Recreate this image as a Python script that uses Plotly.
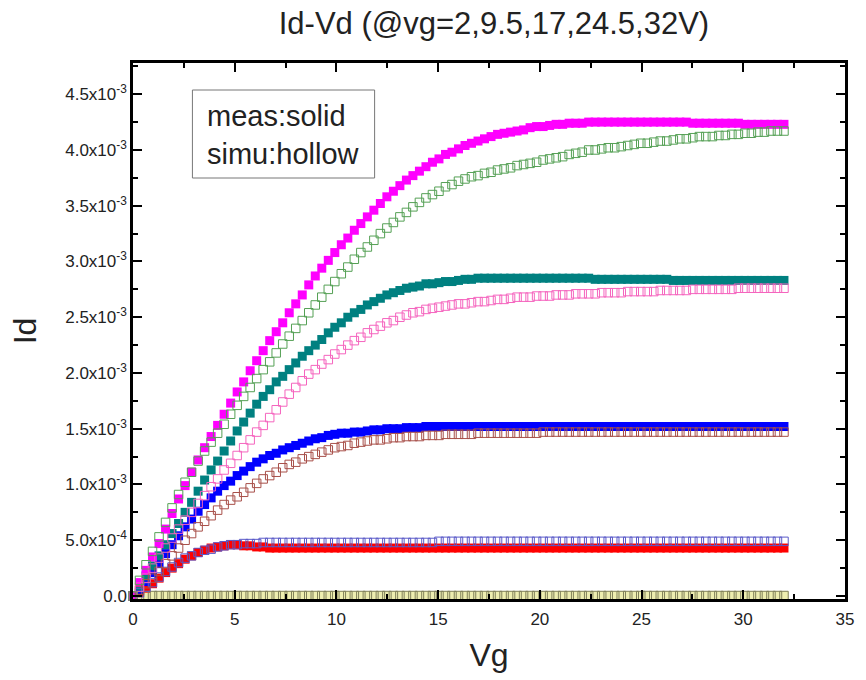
import plotly.graph_objects as go
import numpy as np

vg = [0.00, 0.32, 0.64, 0.96, 1.28, 1.60, 1.92, 2.24, 2.56, 2.88,
      3.20, 3.52, 3.84, 4.16, 4.48, 4.80, 5.12, 5.44, 5.76, 6.08,
      6.40, 6.72, 7.04, 7.36, 7.68, 8.00, 8.32, 8.64, 8.96, 9.28,
      9.60, 9.92, 10.24, 10.56, 10.88, 11.20, 11.52, 11.84, 12.16, 12.48,
      12.80, 13.12, 13.44, 13.76, 14.08, 14.40, 14.72, 15.04, 15.36, 15.68,
      16.00, 16.32, 16.64, 16.96, 17.28, 17.60, 17.92, 18.24, 18.56, 18.88,
      19.20, 19.52, 19.84, 20.16, 20.48, 20.80, 21.12, 21.44, 21.76, 22.08,
      22.40, 22.72, 23.04, 23.36, 23.68, 24.00, 24.32, 24.64, 24.96, 25.28,
      25.60, 25.92, 26.24, 26.56, 26.88, 27.20, 27.52, 27.84, 28.16, 28.48,
      28.80, 29.12, 29.44, 29.76, 30.08, 30.40, 30.72, 31.04, 31.36, 31.68,
      32.00]

# drain currents, in units of 1e-3 A
meas_32 = [0, 0.12, 0.23, 0.35, 0.47, 0.60, 0.74, 0.87, 0.99, 1.11,
           1.22, 1.33, 1.43, 1.53, 1.63, 1.73, 1.83, 1.92, 2.02, 2.11,
           2.20, 2.29, 2.37, 2.45, 2.54, 2.62, 2.70, 2.79, 2.87, 2.94,
           3.01, 3.08, 3.15, 3.21, 3.28, 3.34, 3.40, 3.46, 3.52, 3.58,
           3.63, 3.68, 3.73, 3.77, 3.81, 3.85, 3.89, 3.92, 3.96, 3.98,
           4.01, 4.04, 4.06, 4.08, 4.10, 4.12, 4.14, 4.15, 4.16, 4.17,
           4.18, 4.20, 4.21, 4.21, 4.22, 4.23, 4.23, 4.24, 4.24, 4.24,
           4.25, 4.25, 4.25, 4.25, 4.25, 4.25, 4.25, 4.25, 4.25, 4.25,
           4.25, 4.25, 4.25, 4.25, 4.25, 4.25, 4.24, 4.24, 4.24, 4.24,
           4.24, 4.24, 4.24, 4.24, 4.23, 4.23, 4.23, 4.23, 4.23, 4.23,
           4.23]
simu_32 = [0, 0.14, 0.28, 0.40, 0.53, 0.66, 0.79, 0.91, 1.02, 1.11,
           1.21, 1.30, 1.38, 1.46, 1.54, 1.63, 1.71, 1.79, 1.87, 1.95,
           2.03, 2.10, 2.18, 2.26, 2.33, 2.40, 2.47, 2.54, 2.61, 2.68,
           2.75, 2.82, 2.89, 2.95, 3.02, 3.08, 3.13, 3.19, 3.25, 3.30,
           3.35, 3.40, 3.44, 3.49, 3.53, 3.57, 3.60, 3.63, 3.67, 3.69,
           3.72, 3.74, 3.76, 3.77, 3.79, 3.80, 3.82, 3.83, 3.84, 3.86,
           3.87, 3.88, 3.89, 3.91, 3.92, 3.93, 3.94, 3.96, 3.97, 3.98,
           4.00, 4.00, 4.01, 4.02, 4.02, 4.03, 4.04, 4.05, 4.06, 4.06,
           4.07, 4.08, 4.08, 4.09, 4.10, 4.10, 4.11, 4.12, 4.12, 4.12,
           4.13, 4.13, 4.14, 4.14, 4.15, 4.15, 4.16, 4.16, 4.17, 4.17,
           4.17]
meas_245 = [0, 0.09, 0.18, 0.27, 0.36, 0.46, 0.56, 0.65, 0.75, 0.84,
            0.94, 1.04, 1.13, 1.21, 1.30, 1.39, 1.48, 1.56, 1.64, 1.72,
            1.79, 1.85, 1.92, 1.97, 2.03, 2.09, 2.15, 2.20, 2.25, 2.30,
            2.36, 2.41, 2.45, 2.50, 2.54, 2.57, 2.61, 2.64, 2.67, 2.70,
            2.72, 2.74, 2.76, 2.77, 2.78, 2.80, 2.80, 2.81, 2.82, 2.82,
            2.83, 2.84, 2.84, 2.85, 2.85, 2.85, 2.85, 2.85, 2.85, 2.85,
            2.85, 2.85, 2.85, 2.85, 2.85, 2.85, 2.85, 2.85, 2.85, 2.85,
            2.85, 2.84, 2.84, 2.84, 2.84, 2.84, 2.84, 2.84, 2.84, 2.84,
            2.84, 2.84, 2.84, 2.83, 2.83, 2.83, 2.83, 2.83, 2.83, 2.83,
            2.83, 2.83, 2.83, 2.83, 2.83, 2.83, 2.83, 2.83, 2.83, 2.83,
            2.83]
simu_245 = [0, 0.08, 0.16, 0.25, 0.34, 0.43, 0.52, 0.60, 0.68, 0.75,
            0.83, 0.90, 0.98, 1.05, 1.13, 1.19, 1.26, 1.33, 1.40, 1.47,
            1.53, 1.60, 1.67, 1.74, 1.81, 1.87, 1.93, 1.99, 2.03, 2.08,
            2.12, 2.17, 2.21, 2.25, 2.29, 2.32, 2.36, 2.39, 2.42, 2.45,
            2.47, 2.50, 2.52, 2.54, 2.55, 2.57, 2.58, 2.59, 2.60, 2.61,
            2.62, 2.62, 2.63, 2.64, 2.64, 2.65, 2.66, 2.66, 2.67, 2.68,
            2.68, 2.68, 2.69, 2.69, 2.69, 2.70, 2.70, 2.70, 2.71, 2.71,
            2.71, 2.71, 2.72, 2.72, 2.72, 2.72, 2.73, 2.73, 2.73, 2.73,
            2.73, 2.74, 2.74, 2.74, 2.74, 2.74, 2.75, 2.75, 2.75, 2.75,
            2.75, 2.75, 2.75, 2.76, 2.76, 2.76, 2.76, 2.76, 2.76, 2.76,
            2.76]
meas_17 = [0, 0.06, 0.13, 0.21, 0.29, 0.38, 0.46, 0.54, 0.62, 0.69,
           0.76, 0.82, 0.88, 0.94, 0.99, 1.03, 1.08, 1.12, 1.16, 1.20,
           1.23, 1.26, 1.28, 1.31, 1.33, 1.35, 1.37, 1.39, 1.41, 1.42,
           1.44, 1.45, 1.46, 1.46, 1.47, 1.47, 1.48, 1.49, 1.49, 1.50,
           1.50, 1.50, 1.51, 1.51, 1.51, 1.52, 1.52, 1.52, 1.52, 1.52,
           1.52, 1.52, 1.52, 1.52, 1.52, 1.52, 1.52, 1.52, 1.52, 1.52,
           1.52, 1.52, 1.52, 1.52, 1.52, 1.52, 1.52, 1.52, 1.52, 1.52,
           1.52, 1.52, 1.52, 1.52, 1.52, 1.52, 1.52, 1.52, 1.52, 1.52,
           1.52, 1.52, 1.52, 1.52, 1.52, 1.52, 1.52, 1.52, 1.52, 1.52,
           1.52, 1.52, 1.52, 1.52, 1.52, 1.52, 1.52, 1.52, 1.52, 1.52,
           1.52]
simu_17 = [0, 0.05, 0.11, 0.16, 0.22, 0.29, 0.36, 0.43, 0.50, 0.56,
           0.62, 0.67, 0.72, 0.77, 0.82, 0.86, 0.89, 0.93, 0.97, 1.01,
           1.05, 1.08, 1.11, 1.15, 1.18, 1.20, 1.23, 1.25, 1.27, 1.29,
           1.31, 1.33, 1.34, 1.35, 1.37, 1.38, 1.39, 1.40, 1.40, 1.41,
           1.42, 1.42, 1.43, 1.43, 1.43, 1.44, 1.44, 1.44, 1.45, 1.45,
           1.45, 1.45, 1.45, 1.46, 1.46, 1.46, 1.46, 1.46, 1.46, 1.46,
           1.46, 1.46, 1.46, 1.47, 1.47, 1.47, 1.47, 1.47, 1.47, 1.47,
           1.47, 1.47, 1.47, 1.47, 1.47, 1.47, 1.47, 1.47, 1.47, 1.47,
           1.47, 1.47, 1.47, 1.47, 1.47, 1.47, 1.47, 1.47, 1.47, 1.47,
           1.47, 1.47, 1.47, 1.47, 1.47, 1.47, 1.47, 1.47, 1.47, 1.47,
           1.47]
meas_95 = [0, 0.03, 0.07, 0.11, 0.16, 0.21, 0.25, 0.29, 0.33, 0.36,
           0.39, 0.41, 0.43, 0.44, 0.45, 0.46, 0.46, 0.45, 0.45, 0.44,
           0.44, 0.43, 0.43, 0.43, 0.43, 0.43, 0.43, 0.43, 0.43, 0.43,
           0.43, 0.43, 0.43, 0.43, 0.43, 0.43, 0.43, 0.43, 0.43, 0.43,
           0.43, 0.43, 0.43, 0.43, 0.43, 0.43, 0.43, 0.43, 0.43, 0.43,
           0.43, 0.43, 0.43, 0.43, 0.43, 0.43, 0.43, 0.43, 0.43, 0.43,
           0.43, 0.43, 0.43, 0.43, 0.43, 0.43, 0.43, 0.43, 0.43, 0.43,
           0.43, 0.43, 0.43, 0.43, 0.43, 0.43, 0.43, 0.43, 0.43, 0.43,
           0.43, 0.43, 0.43, 0.43, 0.43, 0.43, 0.43, 0.43, 0.43, 0.43,
           0.43, 0.43, 0.43, 0.43, 0.43, 0.43, 0.43, 0.43, 0.43, 0.43,
           0.43]
simu_95 = [0, 0.03, 0.08, 0.12, 0.17, 0.22, 0.26, 0.30, 0.34, 0.36,
           0.39, 0.41, 0.42, 0.44, 0.45, 0.46, 0.46, 0.47, 0.47, 0.47,
           0.48, 0.48, 0.48, 0.48, 0.48, 0.48, 0.48, 0.48, 0.48, 0.48,
           0.48, 0.48, 0.48, 0.48, 0.48, 0.48, 0.48, 0.48, 0.48, 0.48,
           0.48, 0.48, 0.48, 0.48, 0.48, 0.48, 0.48, 0.49, 0.49, 0.49,
           0.49, 0.49, 0.49, 0.49, 0.49, 0.49, 0.49, 0.49, 0.49, 0.49,
           0.49, 0.49, 0.49, 0.49, 0.49, 0.49, 0.49, 0.49, 0.49, 0.49,
           0.49, 0.49, 0.49, 0.49, 0.49, 0.49, 0.49, 0.49, 0.49, 0.49,
           0.49, 0.49, 0.49, 0.49, 0.49, 0.49, 0.49, 0.49, 0.49, 0.49,
           0.49, 0.49, 0.49, 0.49, 0.49, 0.49, 0.49, 0.49, 0.49, 0.49,
           0.49]
meas_2 = [0, 0.002, 0.003, 0.003, 0.003, 0.003, 0.003, 0.003, 0.003, 0.003,
          0.003, 0.003, 0.003, 0.003, 0.003, 0.003, 0.003, 0.003, 0.003, 0.003,
          0.003, 0.003, 0.003, 0.003, 0.003, 0.003, 0.003, 0.003, 0.003, 0.003,
          0.003, 0.003, 0.003, 0.003, 0.003, 0.003, 0.003, 0.003, 0.003, 0.003,
          0.003, 0.003, 0.003, 0.003, 0.003, 0.003, 0.003, 0.003, 0.003, 0.003,
          0.003, 0.003, 0.003, 0.003, 0.003, 0.003, 0.003, 0.003, 0.003, 0.003,
          0.003, 0.003, 0.003, 0.003, 0.003, 0.003, 0.003, 0.003, 0.003, 0.003,
          0.003, 0.003, 0.003, 0.003, 0.003, 0.003, 0.003, 0.003, 0.003, 0.003,
          0.003, 0.003, 0.003, 0.003, 0.003, 0.003, 0.003, 0.003, 0.003, 0.003,
          0.003, 0.003, 0.003, 0.003, 0.003, 0.003, 0.003, 0.003, 0.003, 0.003,
          0.003]
simu_2 = [0, 0.003, 0.004, 0.004, 0.004, 0.004, 0.004, 0.004, 0.004, 0.004,
          0.004, 0.004, 0.004, 0.004, 0.004, 0.004, 0.004, 0.004, 0.004, 0.004,
          0.004, 0.004, 0.004, 0.004, 0.004, 0.004, 0.004, 0.004, 0.004, 0.004,
          0.004, 0.004, 0.004, 0.004, 0.004, 0.004, 0.004, 0.004, 0.004, 0.004,
          0.004, 0.004, 0.004, 0.004, 0.004, 0.004, 0.004, 0.004, 0.004, 0.004,
          0.004, 0.004, 0.004, 0.004, 0.004, 0.004, 0.004, 0.004, 0.004, 0.004,
          0.004, 0.004, 0.004, 0.004, 0.004, 0.004, 0.004, 0.004, 0.004, 0.004,
          0.004, 0.004, 0.004, 0.004, 0.004, 0.004, 0.004, 0.004, 0.004, 0.004,
          0.004, 0.004, 0.004, 0.004, 0.004, 0.004, 0.004, 0.004, 0.004, 0.004,
          0.004, 0.004, 0.004, 0.004, 0.004, 0.004, 0.004, 0.004, 0.004, 0.004,
          0.004]

y_tickvals = [0, 0.5e-3, 1.0e-3, 1.5e-3, 2.0e-3, 2.5e-3, 3.0e-3, 3.5e-3, 4.0e-3, 4.5e-3]
y_ticktext = ["0.0", "5.0x10<sup>-4</sup>", "1.0x10<sup>-3</sup>", "1.5x10<sup>-3</sup>",
              "2.0x10<sup>-3</sup>", "2.5x10<sup>-3</sup>", "3.0x10<sup>-3</sup>",
              "3.5x10<sup>-3</sup>", "4.0x10<sup>-3</sup>", "4.5x10<sup>-3</sup>"]

x = np.array(vg)
FONT = "Liberation Sans, Arial, sans-serif"

fig = go.Figure()

solid = [(meas_2, "#eeeeb0"), (meas_95, "#ff0000"), (meas_17, "#0000ff"),
         (meas_245, "#008080"), (meas_32, "#ff00ff")]
hollow = [(simu_2, "#80805a"), (simu_95, "#5a5ac8"), (simu_17, "#a8504a"),
          (simu_245, "#f564be"), (simu_32, "#55a055")]

for vals, col in solid:
    assert len(vals) == len(vg)
    fig.add_trace(go.Scatter(x=x, y=np.array(vals) * 1e-3, mode="markers",
                             marker=dict(symbol="square", size=9, color=col,
                                         line=dict(width=0)),
                             showlegend=False, cliponaxis=False))
for vals, col in hollow:
    assert len(vals) == len(vg)
    fig.add_trace(go.Scatter(x=x, y=np.array(vals) * 1e-3, mode="markers",
                             marker=dict(symbol="square-open", size=8.5, color=col,
                                         line=dict(width=1)),
                             showlegend=False, cliponaxis=False))

axis_common = dict(showline=True, linecolor="black", linewidth=2.5, mirror="ticks",
                   ticks="inside", ticklen=9, tickwidth=2, tickcolor="black",
                   showgrid=False, zeroline=False,
                   tickfont=dict(family=FONT, size=17, color="#222"))

fig.update_xaxes(range=[0, 35], dtick=5, tick0=0, ticklabelstandoff=3,
                 minor=dict(ticks="inside", ticklen=5, tickwidth=2, tickcolor="black", dtick=2.5),
                 title=dict(text="Vg", font=dict(family=FONT, size=32, color="#222"), standoff=16),
                 **axis_common)
fig.update_yaxes(range=[-0.027e-3, 4.78e-3], tickvals=y_tickvals, ticktext=y_ticktext,
                 minor=dict(ticks="inside", ticklen=5, tickwidth=2, tickcolor="black",
                            tick0=0, dtick=0.25e-3),
                 title=dict(text="Id", font=dict(family=FONT, size=32, color="#222"), standoff=20),
                 **axis_common)

fig.update_layout(
    width=866, height=680,
    margin=dict(l=133, r=14, t=63, b=81),
    plot_bgcolor="white", paper_bgcolor="white",
    title=dict(text="Id-Vd (@vg=2,9.5,17,24.5,32V)", x=0.507, xref="paper",
               y=0.966, yref="container", yanchor="middle",
               font=dict(family=FONT, size=31, color="#222")),
    shapes=[dict(type="rect", xref="paper", yref="paper",
                 x0=(193 - 133) / 719, x1=(377 - 133) / 719,
                 y0=(599 - 178) / 536, y1=(599 - 90) / 536,
                 line=dict(color="#777", width=1), fillcolor="white", layer="below")],
    annotations=[dict(text="meas:solid<br>simu:hollow", xref="paper", yref="paper",
                      x=(206 - 133) / 719, y=(599 - 135) / 536, xanchor="left", yanchor="middle",
                      align="left", showarrow=False,
                      font=dict(family=FONT, size=29, color="#222"))],
)

fig.write_html("out.html")
